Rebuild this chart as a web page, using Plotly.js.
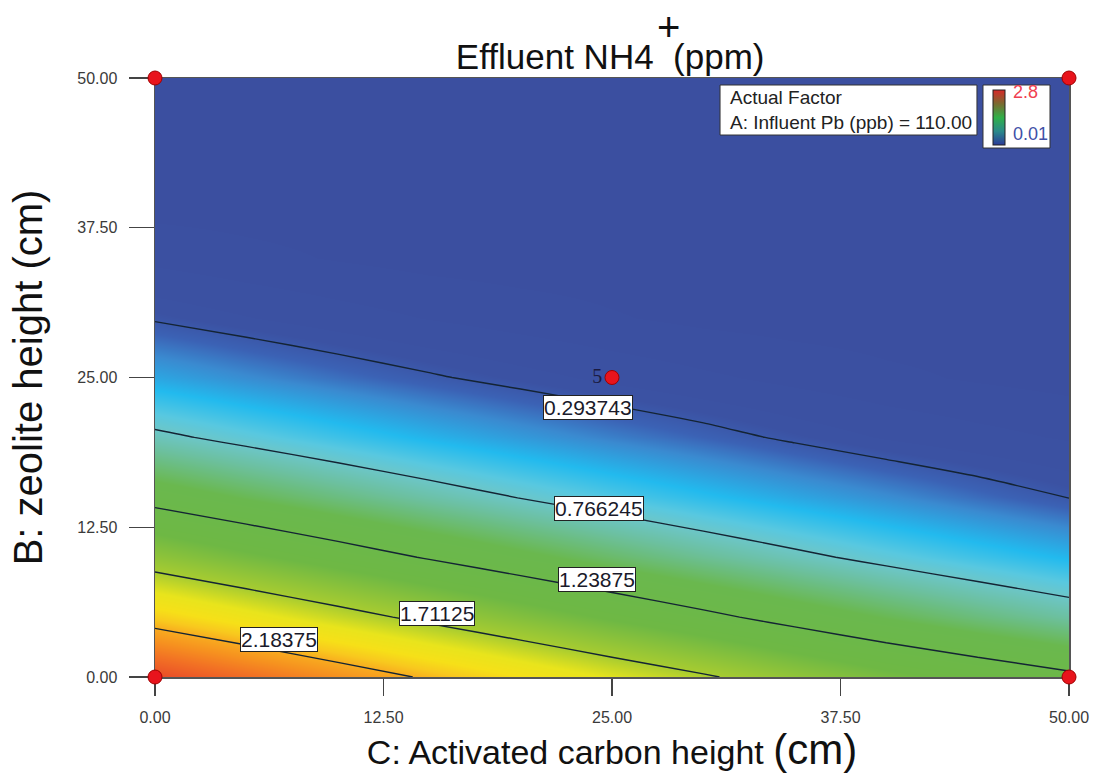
<!DOCTYPE html>
<html>
<head>
<meta charset="utf-8">
<script src="https://cdn.plot.ly/plotly-3.0.1.min.js"></script>
<style>
html,body{margin:0;padding:0;background:#fff;}
#chart{width:1097px;height:781px;}
</style>
</head>
<body>
<div id="chart"></div>
<script>
// ---- data ----
const xVals = [0, 5, 10, 15, 20, 25, 30, 35, 40, 45, 50];   // C: Activated carbon height (cm)
const yVals = [0, 5, 10, 15, 20, 25, 30, 35, 40, 45, 50];   // B: zeolite height (cm)
// Effluent NH4+ (ppm), rows follow yVals, columns follow xVals
const zRow0  = [2.633, 2.469, 2.310, 2.156, 2.007, 1.864, 1.735, 1.600, 1.475, 1.375, 1.280];
const zRow5  = [2.080, 1.934, 1.793, 1.657, 1.527, 1.402, 1.285, 1.168, 1.062, 0.962, 0.870];
const zRow10 = [1.590, 1.463, 1.341, 1.223, 1.111, 1.005, 0.903, 0.807, 0.716, 0.633, 0.555];
const zRow15 = [1.166, 1.057, 0.953, 0.854, 0.760, 0.672, 0.589, 0.511, 0.438, 0.362, 0.290];
const zRow20 = [0.805, 0.715, 0.629, 0.548, 0.473, 0.403, 0.339, 0.272, 0.210, 0.165, 0.125];
const zRow25 = [0.510, 0.437, 0.370, 0.308, 0.251, 0.199, 0.153, 0.110, 0.070, 0.042, 0.020];
const zRow30 = [0.278, 0.224, 0.175, 0.131, 0.093, 0.059, 0.031, 0.015, 0.010, 0.010, 0.010];
const zRow35 = [0.111, 0.075, 0.045, 0.020, 0.010, 0.010, 0.010, 0.010, 0.010, 0.010, 0.010];
const zRow40 = [0.010, 0.010, 0.010, 0.010, 0.010, 0.010, 0.010, 0.010, 0.010, 0.010, 0.010];
const zRow45 = [0.010, 0.010, 0.010, 0.010, 0.010, 0.010, 0.010, 0.010, 0.010, 0.010, 0.010];
const zRow50 = [0.010, 0.010, 0.010, 0.010, 0.010, 0.010, 0.010, 0.010, 0.010, 0.010, 0.010];
const zGrid = [zRow0, zRow5, zRow10, zRow15, zRow20, zRow25, zRow30, zRow35, zRow40, zRow45, zRow50];

const zMin = 0.01, zMax = 2.8;
const contourStart = 0.293743, contourEnd = 2.18375, contourStep = 0.4725;
const contourLabels = ['0.293743', '0.766245', '1.23875', '1.71125', '2.18375'];
const contourLabelX = [23.7, 24.3, 24.2, 15.4, 6.8];
const contourLabelY = [22.5, 14.1, 8.1, 5.3, 3.1];

const designX = [0, 0, 50, 50, 25];
const designY = [0, 50, 0, 50, 25];
const designText = ['', '', '', '', '5'];

const tickVals = [0, 12.5, 25, 37.5, 50];
const tickText = ['0.00', '12.50', '25.00', '37.50', '50.00'];

// ---- styling ----
const FONT = 'Arial, "Liberation Sans", sans-serif';
const fillScale = [
  [0.000, '#3b4fa0'], [0.090, '#3b52a3'], [0.118, '#3b62b5'], [0.149, '#3a8ad0'],
  [0.200, '#22baee'], [0.243, '#58c8e0'], [0.271, '#6cc6c8'], [0.310, '#6cc0a0'],
  [0.381, '#6ab84e'], [0.507, '#6eb844'], [0.610, '#a8cc30'], [0.670, '#e8e41c'],
  [0.715, '#f6e018'], [0.750, '#f8c81e'], [0.780, '#f8aa1f'], [0.820, '#f6921f'],
  [0.870, '#f27224'], [0.930, '#ea5028'], [1.000, '#e43a28']
];
const miniScale = [[0, '#2a3a9a'], [0.25, '#2a8a8a'], [0.5, '#30b048'], [0.75, '#7a6a30'], [1, '#d82828']];

const traces = [
  {
    type: 'heatmap', x: xVals, y: yVals, z: zGrid,
    zsmooth: 'best', colorscale: fillScale, zmin: zMin, zmax: zMax,
    showscale: false, hoverinfo: 'skip'
  },
  {
    type: 'contour', x: xVals, y: yVals, z: zGrid,
    contours: {coloring: 'none', start: contourStart, end: contourEnd, size: contourStep, showlabels: false},
    line: {color: '#142434', width: 1.4, smoothing: 0.6},
    showscale: false, hoverinfo: 'skip'
  },
  {
    type: 'scatter', mode: 'markers+text', x: designX, y: designY, text: designText,
    textposition: 'middle left',
    textfont: {family: '"Liberation Serif", "DejaVu Serif", serif', size: 20, color: '#1a1a40'},
    marker: {color: '#e8141c', size: 14, line: {color: '#a00000', width: 1}},
    cliponaxis: false, hoverinfo: 'skip', showlegend: false
  },
  {
    type: 'scatter', mode: 'markers', x: [null], y: [null],
    marker: {color: [zMin], cmin: zMin, cmax: zMax, colorscale: miniScale, showscale: true,
      colorbar: {x: 0.9168, xanchor: 'left', xref: 'paper', y: 0.934, yanchor: 'middle', yref: 'paper',
        thickness: 12, thicknessmode: 'pixels', len: 55, lenmode: 'pixels',
        xpad: 0, ypad: 0, outlinewidth: 1, outlinecolor: '#222',
        showticklabels: false, ticks: ''}},
    hoverinfo: 'skip', showlegend: false
  }
];

const annotations = contourLabels.map((t, i) => ({
  x: contourLabelX[i], y: contourLabelY[i], xref: 'x', yref: 'y', text: t, showarrow: false,
  font: {family: FONT, size: 21, color: '#1a1a2a'},
  bgcolor: '#ffffff', bordercolor: '#222', borderwidth: 1, borderpad: 0
}));
annotations.push(
  {x: 0.5613, y: 1.085, xref: 'paper', yref: 'paper', text: '+', showarrow: false,
   font: {family: FONT, size: 40, color: '#111'}, xanchor: 'center', yanchor: 'middle'},
  {x: 0.627, y: 0.9466, xref: 'paper', yref: 'paper', xanchor: 'left', yanchor: 'middle', align: 'left',
   text: 'Actual Factor<br>A: Influent Pb (ppb) = 110.00', showarrow: false,
   font: {family: FONT, size: 19, color: '#222'}},
  {x: 0.9365, y: 0.9766, xref: 'paper', yref: 'paper', xanchor: 'left', yanchor: 'middle',
   text: '2.8', showarrow: false, font: {family: FONT, size: 18, color: '#f04050'}},
  {x: 0.9365, y: 0.9065, xref: 'paper', yref: 'paper', xanchor: 'left', yanchor: 'middle',
   text: '0.01', showarrow: false, font: {family: FONT, size: 18, color: '#4050a8'}}
);

const shapes = [
  {type: 'rect', xref: 'paper', yref: 'paper', x0: 0.6182, x1: 0.8993, y0: 0.9048, y1: 0.9883,
   fillcolor: '#ffffff', line: {color: '#333', width: 1}, layer: 'above'},
  {type: 'rect', xref: 'paper', yref: 'paper', x0: 0.9059, x1: 0.9792, y0: 0.8831, y1: 0.9883,
   fillcolor: '#ffffff', line: {color: '#333', width: 1}, layer: 'above'}
];

const axisCommon = {
  range: [0, 50], tickmode: 'array', tickvals: tickVals, ticktext: tickText,
  showgrid: false, zeroline: false, showline: true, linecolor: '#555', linewidth: 1.5, mirror: true,
  ticks: 'outside', tickcolor: '#444', tickwidth: 1.2,
  tickfont: {family: FONT, size: 16, color: '#3a3a3a'}, ticklabelstandoff: 8,
  layer: 'below traces', fixedrange: true
};

const layout = {
  width: 1097, height: 781,
  margin: {l: 155, r: 28, t: 78, b: 104, pad: 0},
  paper_bgcolor: '#ffffff', plot_bgcolor: '#ffffff',
  showlegend: false,
  title: {text: 'Effluent NH4&nbsp; (ppm)', x: 0.498, xref: 'paper', xanchor: 'center',
          y: 0.927, yref: 'container', yanchor: 'middle',
          font: {family: FONT, size: 35, color: '#111'}},
  xaxis: Object.assign({}, axisCommon, {
    ticklen: 17,
    title: {text: 'C: Activated carbon height <span style="font-size:42px">(cm)</span>',
            font: {family: FONT, size: 34, color: '#111'}, standoff: 14}
  }),
  yaxis: Object.assign({}, axisCommon, {
    ticklen: 25,
    title: {text: 'B: zeolite height (cm)', font: {family: FONT, size: 40, color: '#111'}, standoff: 22}
  }),
  annotations: annotations,
  shapes: shapes
};

Plotly.newPlot('chart', traces, layout, {displayModeBar: false, staticPlot: true});
</script>
</body>
</html>
